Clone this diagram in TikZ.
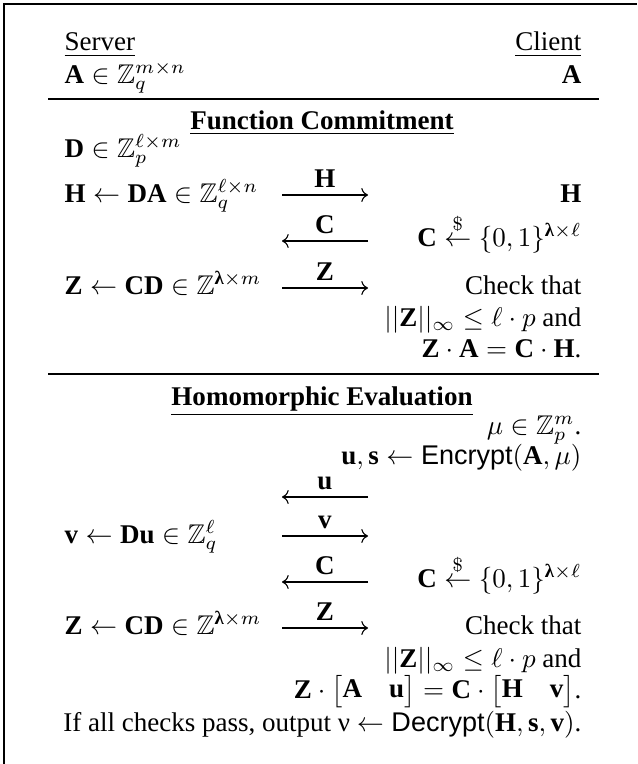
\documentclass[tikz,border=0pt]{standalone}
\usepackage{amsmath,amssymb}
\usepackage{fontspec}
\setmainfont{Liberation Serif}
\setsansfont{Liberation Sans}
\usepackage{tikz}
\usetikzlibrary{arrows.meta}
\newcommand{\blam}{\text{\normalfont\bfseries λ}}
\newcommand{\chk}[1]{\mathbf{#1}}

\begin{document}
\begin{tikzpicture}[x=0.37pt,y={(0pt,-0.37pt)},
  lft/.style={anchor=base west,inner sep=0pt},
  rgt/.style={anchor=base east,inner sep=0pt},
  title/.style={anchor=base,inner sep=0pt,font=\bfseries},
  rule/.style={line width=0.4pt},
  msg/.style={->,line width=0.4pt},
  lbl/.style={above=2.5pt,inner sep=0pt}]

  \useasboundingbox (0,0) rectangle (637,764);
  \draw[line width=0.5pt] (4,764) -- (4,4) -- (637,4);

  % parties
  \node[lft] (srv) at (64,51) {\underline{Server}};
  \node[rgt] (cli) at (582,51) {\underline{Client}};
  \node[lft] (srvA) at (64,83) {$\chk{A}\in\mathbb{Z}_q^{m\times n}$};
  \node[rgt] (cliA) at (582,83) {$\chk{A}$};
  \draw[rule] (48,99) -- (599,99);

  % function commitment
  \node[title] (fc) at (322,129) {\underline{Function Commitment}};
  \node[lft] (srvD) at (64,157) {$\chk{D}\in\mathbb{Z}_p^{\ell\times m}$};
  \node[lft] (srvH) at (64,202) {$\chk{H}\leftarrow\chk{DA}\in\mathbb{Z}_q^{\ell\times n}$};
  \node[rgt] (cliH) at (582,202) {$\chk{H}$};
  \node[rgt] (cliC) at (582,246) {$\chk{C}\stackrel{\$}{\leftarrow}\{0,1\}^{\blam\times\ell}$};
  \node[lft] (srvZ) at (64,294) {$\chk{Z}\leftarrow\chk{CD}\in\mathbb{Z}^{\blam\times m}$};
  \node[rgt] (cliZ) at (582,294) {Check that};
  \node[rgt] (cliN) at (582,326) {$||\chk{Z}||_\infty\leq\ell\cdot p$ and};
  \node[rgt] (cliE) at (582,357) {$\chk{Z}\cdot\chk{A}=\chk{C}\cdot\chk{H}$.};

  \coordinate (h-s) at (282,195);  \coordinate (h-c) at (368,195);
  \coordinate (c-s) at (282,241);  \coordinate (c-c) at (368,241);
  \coordinate (z-s) at (282,288);  \coordinate (z-c) at (368,288);
  \draw[msg] (h-s) -- node[lbl] (mH) {$\chk{H}$} (h-c);
  \draw[msg] (c-c) -- node[lbl] (mC) {$\chk{C}$} (c-s);
  \draw[msg] (z-s) -- node[lbl] (mZ) {$\chk{Z}$} (z-c);
  \draw[rule] (48,374) -- (599,374);

  % homomorphic evaluation
  \node[title] (he) at (322,405) {\underline{Homomorphic Evaluation}};
  \node[rgt] (cliMu) at (582,434) {$\mu\in\mathbb{Z}_p^m$.};
  \node[rgt] (cliEnc) at (582,464) {$\chk{u},\chk{s}\leftarrow\mathsf{Encrypt}(\chk{A},\mu)$};
  \node[lft] (srvV) at (64,543) {$\chk{v}\leftarrow\chk{Du}\in\mathbb{Z}_q^{\ell}$};
  \node[rgt] (cliC2) at (582,587) {$\chk{C}\stackrel{\$}{\leftarrow}\{0,1\}^{\blam\times\ell}$};
  \node[lft] (srvZ2) at (64,634) {$\chk{Z}\leftarrow\chk{CD}\in\mathbb{Z}^{\blam\times m}$};
  \node[rgt] (cliZ2) at (582,634) {Check that};
  \node[rgt] (cliN2) at (582,667) {$||\chk{Z}||_\infty\leq\ell\cdot p$ and};
  \node[rgt] (cliE2) at (582,698) {$\chk{Z}\cdot\begin{bmatrix}\chk{A} & \chk{u}\end{bmatrix}=\chk{C}\cdot\begin{bmatrix}\chk{H} & \chk{v}\end{bmatrix}$.};
  \node[rgt] (out) at (582,731) {If all checks pass, output ν $\leftarrow\mathsf{Decrypt}(\chk{H},\chk{s},\chk{v})$.};

  \coordinate (u-s) at (282,497);  \coordinate (u-c) at (368,497);
  \coordinate (v-s) at (282,536);  \coordinate (v-c) at (368,536);
  \coordinate (c2-s) at (282,582); \coordinate (c2-c) at (368,582);
  \coordinate (z2-s) at (282,628); \coordinate (z2-c) at (368,628);
  \draw[msg] (u-c) -- node[lbl] (mu) {$\chk{u}$} (u-s);
  \draw[msg] (v-s) -- node[lbl] (mv) {$\chk{v}$} (v-c);
  \draw[msg] (c2-c) -- node[lbl] (mC2) {$\chk{C}$} (c2-s);
  \draw[msg] (z2-s) -- node[lbl] (mZ2) {$\chk{Z}$} (z2-c);
\end{tikzpicture}
\end{document}
